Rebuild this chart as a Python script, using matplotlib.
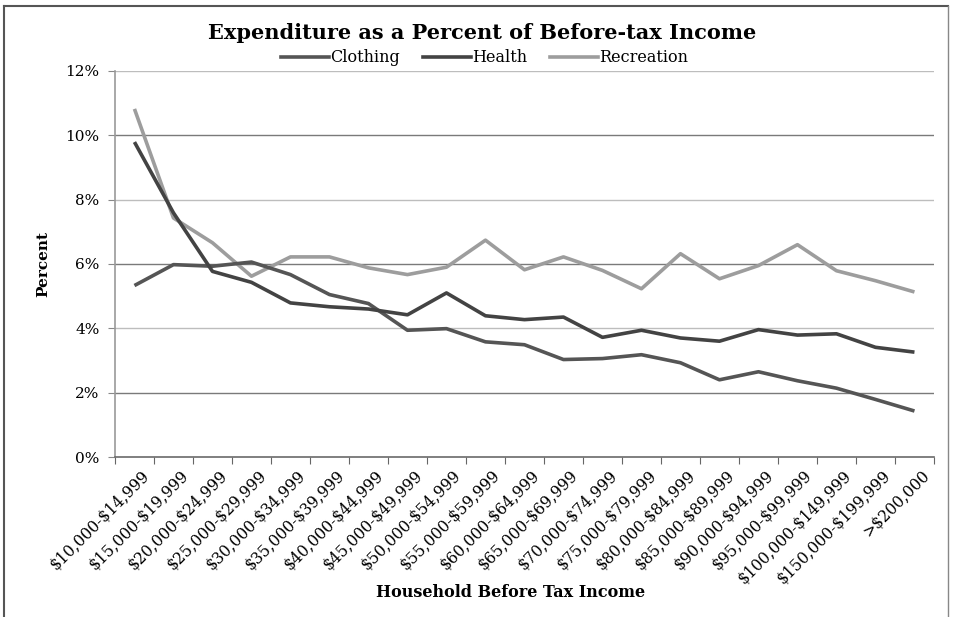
import matplotlib
matplotlib.use("Agg")
import matplotlib.pyplot as plt
import matplotlib.transforms as mtransforms
from matplotlib.lines import Line2D
from matplotlib.ticker import FuncFormatter

plt.rcParams['font.family'] = ['DejaVu Serif']
plt.rcParams['text.parse_math'] = False

incomes = ['$10,000-$14,999', '$15,000-$19,999', '$20,000-$24,999', '$25,000-$29,999',
           '$30,000-$34,999', '$35,000-$39,999', '$40,000-$44,999', '$45,000-$49,999',
           '$50,000-$54,999', '$55,000-$59,999', '$60,000-$64,999', '$65,000-$69,999',
           '$70,000-$74,999', '$75,000-$79,999', '$80,000-$84,999', '$85,000-$89,999',
           '$90,000-$94,999', '$95,000-$99,999', '$100,000-$149,999', '$150,000-$199,999',
           '>$200,000']

clothing = [5.33, 5.98, 5.93, 6.06, 5.67, 5.05, 4.77, 3.94, 3.99, 3.58, 3.49,
            3.03, 3.06, 3.18, 2.93, 2.40, 2.65, 2.37, 2.14, 1.79, 1.43]
health = [9.79, 7.59, 5.77, 5.43, 4.79, 4.67, 4.60, 4.42, 5.10, 4.39, 4.27,
          4.35, 3.72, 3.94, 3.70, 3.60, 3.96, 3.79, 3.83, 3.41, 3.26]
recreation = [10.82, 7.43, 6.66, 5.62, 6.22, 6.22, 5.88, 5.67, 5.90, 6.74, 5.82,
              6.22, 5.80, 5.23, 6.32, 5.54, 5.95, 6.60, 5.79, 5.48, 5.13]

fig = plt.figure(figsize=(9.54, 6.17), dpi=100)
ax = fig.add_axes([0.1205, 0.2593, 0.8585, 0.6257])

x = list(range(len(incomes)))

# gridlines (scan shows alternating darker / lighter lines)
for yv in [2, 4, 6, 8, 10, 12]:
    c = '#7a7a7a' if yv in (2, 6, 10) else '#bdbdbd'
    ax.axhline(yv, color=c, lw=1.0, zorder=1)

ax.plot(x, clothing, color='#555555', lw=2.6, zorder=3, solid_capstyle='butt')
ax.plot(x, health, color='#434343', lw=2.6, zorder=3, solid_capstyle='butt')
ax.plot(x, recreation, color='#9d9d9d', lw=2.6, zorder=2, solid_capstyle='butt')

ax.set_xlim(-0.5, len(incomes) - 0.5)
ax.set_ylim(0, 12)
ax.set_yticks([0, 2, 4, 6, 8, 10, 12])
ax.yaxis.set_major_formatter(FuncFormatter(lambda v, p: f"{int(v)}%"))

ax.set_xticks([i - 0.5 for i in range(len(incomes) + 1)], minor=False)
ax.set_xticklabels([])
ax.set_xticks(x, minor=True)
ax.set_xticklabels(incomes, minor=True, rotation=45, ha='right',
                   rotation_mode='anchor', fontsize=11.2)
ax.tick_params(axis='x', which='minor', length=0, pad=7)
ax.tick_params(axis='x', which='major', length=5, color='#666666', direction='out')
ax.tick_params(axis='y', length=5, color='#888888', labelsize=11, pad=6)

offset = mtransforms.ScaledTranslation(6 / 100, 0, fig.dpi_scale_trans)
for lbl in ax.get_xticklabels(minor=True):
    lbl.set_transform(lbl.get_transform() + offset)

for s in ['top', 'right']:
    ax.spines[s].set_visible(False)
ax.spines['left'].set_color('#9a9a9a')
ax.spines['bottom'].set_color('#6a6a6a')
ax.spines['left'].set_linewidth(1.2)
ax.spines['bottom'].set_linewidth(1.2)

ax.set_ylabel('Percent', fontsize=11, fontweight='bold', labelpad=11)
fig.text(0.535, 0.04, 'Household Before Tax Income', ha='center', va='center',
         fontsize=11.5, fontweight='bold')
fig.text(0.505, 0.946, 'Expenditure as a Percent of Before-tax Income', ha='center',
         va='center', fontsize=15, fontweight='bold')

handles = [Line2D([], [], color='#555555', lw=2.6),
           Line2D([], [], color='#434343', lw=2.6),
           Line2D([], [], color='#9d9d9d', lw=2.6)]
fig.legend(handles, ['Clothing', 'Health', 'Recreation'], loc='center',
           bbox_to_anchor=(0.508, 0.906), ncol=3, frameon=False, fontsize=11.5,
           handlelength=3.0, handletextpad=0.1, columnspacing=1.4)

# frame around the chart area
fig.add_artist(Line2D([0.004, 0.004], [0.0, 0.99], color='#555555', lw=1.5,
                      transform=fig.transFigure))
fig.add_artist(Line2D([0.004, 0.994], [0.99, 0.99], color='#555555', lw=1.5,
                      transform=fig.transFigure))
fig.add_artist(Line2D([0.994, 0.994], [0.0, 0.99], color='#888888', lw=1.0,
                      transform=fig.transFigure))

fig.savefig('out.png', dpi=100)
